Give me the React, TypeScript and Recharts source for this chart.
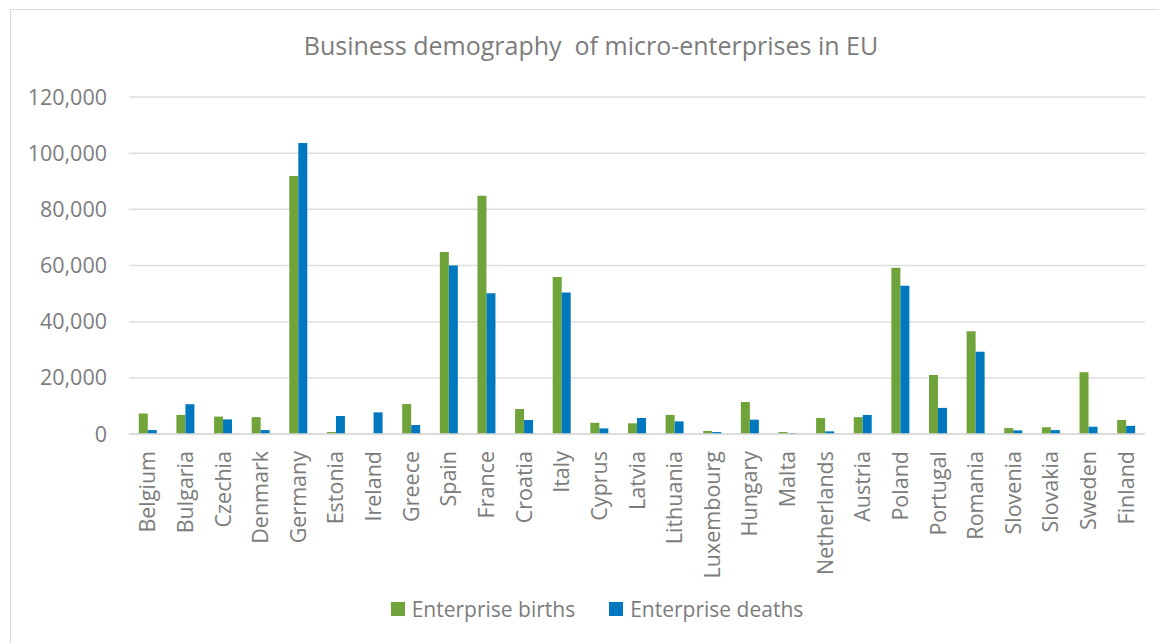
import { Bar, BarChart, CartesianGrid, Legend, XAxis, YAxis } from "recharts";

const countries = [
  "Belgium", "Bulgaria", "Czechia", "Denmark", "Germany", "Estonia", "Ireland",
  "Greece", "Spain", "France", "Croatia", "Italy", "Cyprus", "Latvia", "Lithuania",
  "Luxembourg", "Hungary", "Malta", "Netherlands", "Austria", "Poland", "Portugal",
  "Romania", "Slovenia", "Slovakia", "Sweden", "Finland",
];

const births = [
  7300, 6800, 6200, 6000, 91900, 700, 0, 10700, 64800, 84800, 8900, 55900, 4000,
  3800, 6800, 1100, 11400, 700, 5700, 6000, 59200, 21000, 36600, 2100, 2400, 22000, 5000,
];

const deaths = [
  1400, 10600, 5200, 1400, 103600, 6400, 7700, 3200, 60000, 50100, 5000, 50400, 2000,
  5700, 4500, 700, 5100, 350, 950, 6800, 52800, 9300, 29300, 1300, 1400, 2600, 2900,
];

const yTicks = [0, 20000, 40000, 60000, 80000, 100000, 120000];

const GREEN = "#70a33a";
const BLUE = "#0078c0";
const TEXT = "#7c7c7c";
const FONT = "'Open Sans', sans-serif";

const data = countries.map((c, i) => ({ country: c, births: births[i], deaths: deaths[i] }));

function CountryTick({ x, y, payload }: any) {
  return (
    <g transform={`translate(${x},${y + 9})`}>
      <text
        transform="rotate(-90)"
        textAnchor="end"
        dy="0.35em"
        fill={TEXT}
        fontSize={21.5}
        fontFamily={FONT}
      >
        {payload.value}
      </text>
    </g>
  );
}

function LegendBox() {
  const item = (color: string, label: string) => (
    <div style={{ display: "flex", alignItems: "center", gap: 7 }}>
      <span style={{ width: 14, height: 14, background: color, display: "inline-block" }} />
      <span>{label}</span>
    </div>
  );
  return (
    <div
      style={{
        display: "flex",
        justifyContent: "center",
        gap: 34,
        height: 30,
        alignItems: "center",
        fontFamily: FONT,
        fontSize: 21,
        color: TEXT,
        paddingLeft: 28,
      }}
    >
      {item(GREEN, "Enterprise births")}
      {item(BLUE, "Enterprise deaths")}
    </div>
  );
}

export default function App() {
  return (
    <div
      style={{
        position: "relative",
        width: 1150,
        height: 633,
        marginLeft: 2,
        marginTop: 1,
        borderLeft: "1px solid #d9d9d9",
        borderTop: "1px solid #d9d9d9",
        background: "#fff",
      }}
    >
      <div
        style={{
          position: "absolute",
          top: 18,
          left: 0,
          width: "100%",
          paddingLeft: 10,
          boxSizing: "border-box",
          textAlign: "center",
          fontFamily: FONT,
          fontSize: 25,
          color: TEXT,
          whiteSpace: "pre",
        }}
      >
        {"Business demography  of micro-enterprises in EU"}
      </div>
      <BarChart
        width={1150}
        height={633}
        data={data}
        margin={{ top: 87, right: 16, left: 10, bottom: 19 }}
        barGap={0}
        barCategoryGap="26%"
      >
        <CartesianGrid vertical={false} stroke="#dedede" strokeWidth={1.5} />
        <XAxis
          dataKey="country"
          interval={0}
          height={160}
          tickLine={false}
          axisLine={{ stroke: "#d9d9d9", strokeWidth: 1.5 }}
          tick={<CountryTick />}
        />
        <YAxis
          width={108}
          domain={[0, 120000]}
          ticks={yTicks}
          axisLine={false}
          tickLine={false}
          tickMargin={16}
          tickFormatter={(v: number) => v.toLocaleString("en-US")}
          tick={{ fill: TEXT, fontSize: 21.5, fontFamily: FONT }}
        />
        <Legend verticalAlign="bottom" height={30} content={<LegendBox />} />
        <Bar dataKey="births" name="Enterprise births" fill={GREEN} isAnimationActive={false} />
        <Bar dataKey="deaths" name="Enterprise deaths" fill={BLUE} isAnimationActive={false} />
      </BarChart>
    </div>
  );
}
